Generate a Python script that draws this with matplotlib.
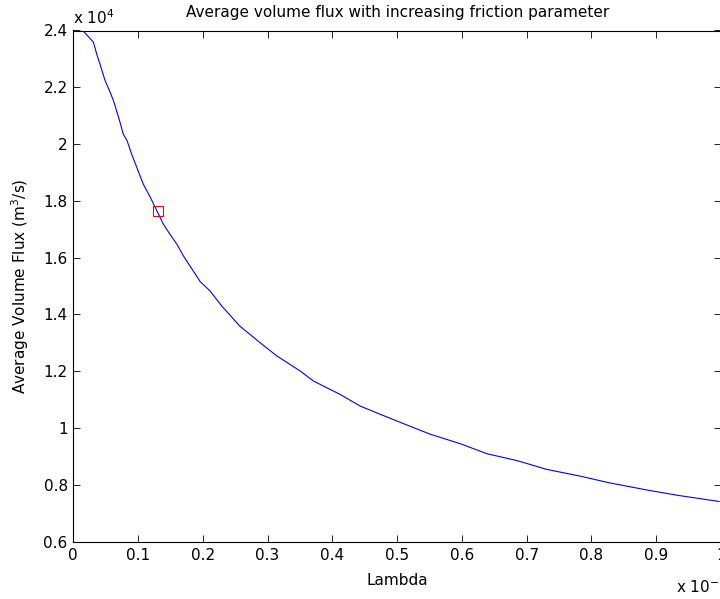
import matplotlib
matplotlib.use("Agg")
import matplotlib.pyplot as plt
import numpy as np

# lambda in units of 1e-7, flux in m^3/s
lam = [0.0, 0.015, 0.031, 0.036, 0.041, 0.049, 0.057, 0.062, 0.070, 0.077,
       0.083, 0.090, 0.098, 0.108, 0.119, 0.129, 0.139, 0.149, 0.160, 0.170,
       0.180, 0.196, 0.211, 0.229, 0.257, 0.288, 0.314, 0.350, 0.371, 0.412,
       0.443, 0.474, 0.510, 0.551, 0.598, 0.639, 0.685, 0.731, 0.783, 0.827,
       0.889, 0.935, 0.997]
flux = [24000, 23990, 23590, 23180, 22830, 22240, 21820, 21530, 20940, 20360,
        20120, 19650, 19180, 18590, 18120, 17650, 17180, 16830, 16470, 16060,
        15710, 15150, 14830, 14300, 13590, 13010, 12540, 12010, 11650, 11180,
        10770, 10480, 10150, 9780, 9440, 9090, 8850, 8540, 8300, 8070,
        7800, 7620, 7410]
marker_lam = 0.13
marker_flux = 17650

plt.rcParams['font.family'] = ['DejaVu Sans']
plt.rcParams['mathtext.fontset'] = 'dejavusans'
fs = 11

fig = plt.figure(figsize=(7.2, 5.99), dpi=100)
ax = fig.add_axes([73.3 / 720, (599 - 541.5) / 599, (721 - 73.3) / 720, 511 / 599])

ax.plot(lam, np.array(flux) / 1e4, color=(0, 0, 1), lw=0.8)
ax.plot(marker_lam, marker_flux / 1e4, 's', mfc='none', mec='red', ms=6.5, mew=0.8)

ax.set_xlim(0, 1)
ax.set_ylim(0.6, 2.4)
ax.set_xticks(np.arange(0, 1.01, 0.1))
ax.set_xticklabels(['0', '0.1', '0.2', '0.3', '0.4', '0.5', '0.6', '0.7', '0.8', '0.9', '1'])
ax.set_yticks(np.arange(0.6, 2.41, 0.2))
ax.set_yticklabels(['0.6', '0.8', '1', '1.2', '1.4', '1.6', '1.8', '2', '2.2', '2.4'])
ax.tick_params(direction='in', top=True, right=True, length=5, width=0.6, labelsize=fs)
ax.tick_params(axis='x', pad=5)
ax.tick_params(axis='y', pad=4)
for s in ax.spines.values():
    s.set_linewidth(0.8)

ax.set_title('Average volume flux with increasing friction parameter', fontsize=fs, pad=10)
ax.set_xlabel('Lambda', fontsize=fs, labelpad=7)
ax.set_ylabel('Average Volume Flux (m$^3$/s)', fontsize=fs, labelpad=9)

ax.text(0, 1.006, r'x 10$^4$', transform=ax.transAxes, fontsize=fs, ha='left', va='bottom')
ax.text(0.93, -0.07, r'x 10$^{-7}$', transform=ax.transAxes, fontsize=fs, ha='left', va='top')

fig.savefig('out.png', dpi=100)
